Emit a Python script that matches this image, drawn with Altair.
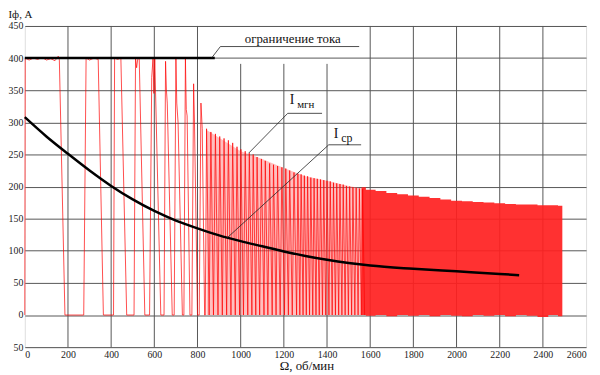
import altair as alt
import pandas as pd

FONT = "Liberation Serif"

# ---- average current I_cp ----
avg_x = [0, 100, 200, 300, 400, 500, 600, 700, 800, 900, 1000, 1100, 1200, 1300, 1400, 1500, 1600, 1800, 2000, 2200, 2290]
avg_y = [308, 278, 251, 225, 201, 180, 162, 147, 135, 124, 115, 107, 99, 92, 86, 81, 77, 72, 68, 64, 62]

# ---- instantaneous current, low-speed part (explicit vertices) ----
sig_x = [0, 2, 20, 40, 60, 80, 100, 120, 140, 155, 160, 186, 273, 284, 300, 320, 340, 364, 411, 416, 430, 445, 472,
         506, 513, 518, 523, 530, 556, 578, 588, 594, 598, 602, 630, 645, 652, 656, 660, 683, 692, 700, 704, 710, 730,
         737, 744, 748, 752, 765, 774, 782, 786, 800, 808, 816, 822, 833, 836]
sig_y = [0, 400, 397, 400, 398, 401, 397, 399, 396, 403, 398, 0, 0, 400, 397, 400, 398, 0, 0, 400, 398, 400, 0,
         0, 400, 385, 398, 400, 0, 0, 370, 400, 345, 400, 0, 0, 395, 350, 330, 0, 0, 400, 330, 300, 0,
         0, 400, 320, 310, 0, 0, 360, 300, 0, 0, 330, 290, 0, 0]

# ---- instantaneous current, middle part (peaks / troughs) ----
pk_x = [842, 862, 883, 903, 923, 943, 963, 983, 1001, 1021, 1040, 1058, 1076, 1096, 1114, 1134, 1152, 1171, 1191,
        1209, 1227, 1247, 1265, 1280, 1295, 1310, 1325, 1340, 1355, 1370, 1385, 1400, 1415, 1430, 1445, 1460, 1475,
        1490, 1505, 1520, 1535, 1550, 1565]
pk_y = [290, 285, 282, 278, 275, 272, 268, 262, 258, 255, 252, 250, 246, 243, 240, 236, 234, 232, 230,
        228, 225, 222, 220, 219, 217, 216, 214, 213, 212, 211, 210, 209, 208, 206, 205, 204, 203,
        201, 200, 199, 198, 197, 196]
tr_x = [854, 874, 895, 915, 935, 955, 975, 995, 1013, 1033, 1052, 1070, 1088, 1108, 1126, 1146, 1164, 1183, 1203,
        1221, 1239, 1259, 1274, 1289, 1304, 1319, 1334, 1349, 1364, 1379, 1394, 1409, 1424, 1439, 1454, 1469, 1484,
        1499, 1514, 1529, 1544, 1559, 1574]

# pale fill seen between the dense middle-range pulses
haze_x = [842, 900, 1000, 1100, 1200, 1300, 1400, 1500, 1565]
haze_top = [288, 276, 255, 243, 229, 216, 209, 201, 197]

# ---- instantaneous current, high-speed part (envelope of dense oscillation) ----
band_x = [1560, 1600, 1650, 1700, 1750, 1800, 1850, 1900, 1950, 2000, 2050, 2100, 2150, 2200, 2250, 2300, 2350, 2400, 2450, 2490]
band_top = [199, 195, 193, 190, 188, 186, 184, 182, 180, 178, 177, 176, 175, 174, 173, 172, 172, 171, 171, 170]
band_bot = [0, -1, 0, -2, 0, -1, 0, -2, 0, -1, -2, 0, -1, 0, -2, 0, -1, -3, 0, -2]

# ---- current limit ----
lim_x = [0, 880]
lim_y = [400, 400]

# ---- gridlines ----
vgrid_x = [200, 400, 600, 800, 1000, 1200, 1400, 1600, 1800, 2000, 2200, 2400]
vgrid_top = [450, 450, 450, 450, 391, 391, 391, 450, 450, 450, 450, 450]

# ---- annotation leaders ----
lead_x = [865, 906, 1037, 1218, 937, 1408]
lead_y = [400, 418, 252, 314, 120, 265]
lead_x2 = [906, 1549, 1218, 1377, 1408, 1558]
lead_y2 = [418, 418, 314, 314, 265, 265]

lab_text = ["ограничение тока", "I", "мгн", "I", "ср"]
lab_x = [1241, 1227, 1262, 1431, 1466]
lab_y = [423, 328, 322, 275, 270]
lab_size = [13, 14, 11, 14, 12]
lab_align = ["center", "left", "left", "left", "left"]

# build signal table
rows = []
for x, y in zip(sig_x, sig_y):
    rows.append((x, y))
for p, h, t in zip(pk_x, pk_y, tr_x):
    rows.append((p, h))
    rows.append((t, 0))
sig = pd.DataFrame(rows, columns=["x", "y"])
sig["i"] = range(len(sig))

xs = alt.Scale(domain=[0, 2600], nice=False, zero=False)
ys = alt.Scale(domain=[-50, 450], nice=False, zero=False)

xax = alt.Axis(values=list(range(0, 2601, 200)), grid=False, ticks=False, domain=False, format="d",
               labelFont=FONT, labelFontSize=10, labelColor="#222", labelPadding=2,
               title="Ω, об/мин", titleFont=FONT, titleFontSize=13, titleFontWeight="normal",
               titleColor="#111", titleX=285, titleY=23, titleBaseline="alphabetic")
yax = alt.Axis(values=list(range(-50, 451, 50)), grid=True, gridColor="#555", gridWidth=1,
               ticks=False, domain=False, labelFont=FONT, labelFontSize=10, labelColor="#222",
               labelPadding=2, labelExpr="abs(datum.value)", labelOverlap=False,
               title="Iф, А", titleFont=FONT, titleFontSize=11, titleFontWeight="normal",
               titleColor="#111", titleAngle=0, titleAlign="left", titleX=-17, titleY=-8.5,
               titleBaseline="alphabetic")


def X(f):
    return alt.X(f, type="quantitative", scale=xs, axis=xax)


def Y(f):
    return alt.Y(f, type="quantitative", scale=ys, axis=yax)


grid_df = pd.DataFrame({"x": vgrid_x, "top": vgrid_top, "bot": [-50] * len(vgrid_x)})
vgrid = alt.Chart(grid_df).mark_rule(color="#555", strokeWidth=1).encode(
    x=X("x"), y=Y("bot"), y2="top:Q")

haze_df = pd.DataFrame({"x": haze_x, "top": haze_top, "bot": [0] * len(haze_x)})
haze = alt.Chart(haze_df).mark_area(color="#ff7070", opacity=0.45).encode(
    x=X("x"), y=Y("top"), y2="bot:Q")

band_df = pd.DataFrame({"x": band_x, "top": band_top, "bot": band_bot})
band = alt.Chart(band_df).mark_area(color="#ff2020", opacity=0.92, interpolate="step").encode(
    x=X("x"), y=Y("top"), y2="bot:Q")

sigline = alt.Chart(sig).mark_line(color="#ff0000", strokeWidth=0.7).encode(
    x=X("x"), y=Y("y"), order="i:Q")

avg_df = pd.DataFrame({"x": avg_x, "y": avg_y})
avg = alt.Chart(avg_df).mark_line(color="#000", strokeWidth=2.5, interpolate="monotone").encode(
    x=X("x"), y=Y("y"))

lim_df = pd.DataFrame({"x": lim_x, "y": lim_y})
lim = alt.Chart(lim_df).mark_line(color="#000", strokeWidth=2.5).encode(
    x=X("x"), y=Y("y"))

lead_df = pd.DataFrame({"x": lead_x, "y": lead_y, "x2": lead_x2, "y2": lead_y2})
leads = alt.Chart(lead_df).mark_rule(color="#222", strokeWidth=0.8).encode(
    x=X("x"), y=Y("y"), x2="x2:Q", y2="y2:Q")

lab_df = pd.DataFrame({"t": lab_text, "x": lab_x, "y": lab_y, "s": lab_size, "a": lab_align})
labs = alt.layer(*[
    alt.Chart(lab_df.iloc[[k]]).mark_text(font=FONT, color="#111", baseline="alphabetic",
                                            align=lab_align[k], fontSize=lab_size[k]).encode(
        x=X("x"), y=Y("y"), text="t:N")
    for k in range(len(lab_text))
])

chart = alt.layer(vgrid, haze, band, sigline, avg, lim, leads, labs).properties(
    width=568, height=325,
    autosize=alt.AutoSizeParams(type="none"),
    padding={"left": 17, "top": 16, "right": 6, "bottom": 26},
).configure_view(stroke="#555", strokeWidth=1).configure(background="white")

chart.save("out.html", embed_options={"renderer": "svg", "actions": False})
